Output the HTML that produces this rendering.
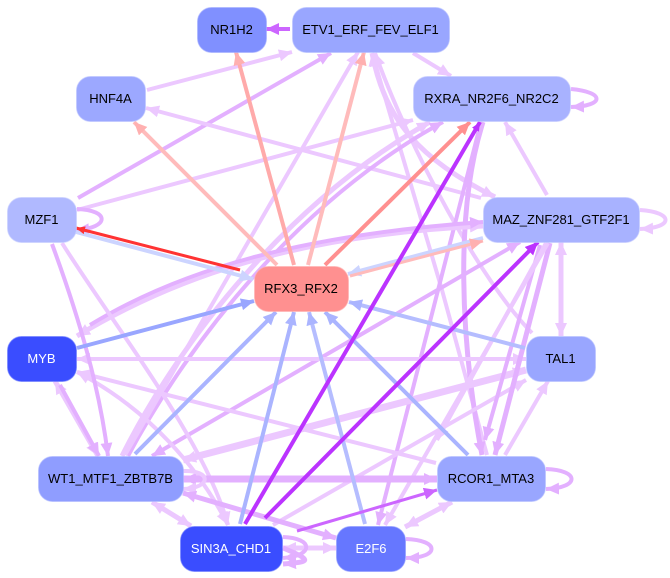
<!DOCTYPE html>
<html><head><meta charset="utf-8">
<style>
html,body{margin:0;padding:0;background:#fff}
svg{display:block}
text{font-family:"Liberation Sans",sans-serif;font-size:13px;text-anchor:middle;fill:#000}
path{fill:none}
.a{stroke:#ecc8ff;marker-end:url(#ma)}
.b{stroke:#e3b0ff;marker-end:url(#mb)}
.s{stroke-width:4}
.w{stroke-width:5}
.x{stroke-width:7}
.d{marker-start:url(#ma)}
.e{marker-start:url(#mb)}
</style></head><body>
<svg width="670" height="578" viewBox="0 0 670 578" xmlns="http://www.w3.org/2000/svg">
<defs>
<marker id="ma" markerUnits="userSpaceOnUse" markerWidth="16" markerHeight="14" refX="13" refY="6" orient="auto-start-reverse"><path d="M0 0L13 6L0 12z" style="fill:#ecc8ff"/></marker>
<marker id="mb" markerUnits="userSpaceOnUse" markerWidth="16" markerHeight="14" refX="13" refY="6" orient="auto-start-reverse"><path d="M0 0L13 6L0 12z" style="fill:#e3b0ff"/></marker>
<marker id="mc" markerUnits="userSpaceOnUse" markerWidth="16" markerHeight="14" refX="13" refY="6" orient="auto"><path d="M0 0L13 6L0 12z" style="fill:#cc66ff"/></marker>
<marker id="md" markerUnits="userSpaceOnUse" markerWidth="16" markerHeight="14" refX="13" refY="6" orient="auto"><path d="M0 0L13 6L0 12z" style="fill:#bb33ff"/></marker>
<marker id="md2" markerUnits="userSpaceOnUse" markerWidth="12" markerHeight="10" refX="9" refY="4" orient="auto"><path d="M0 0L9 4L0 8z" style="fill:#bb33ff"/></marker>
<marker id="me" markerUnits="userSpaceOnUse" markerWidth="16" markerHeight="14" refX="13" refY="6" orient="auto"><path d="M0 0L13 6L0 12z" style="fill:#ffb0b0"/></marker>
<marker id="mf" markerUnits="userSpaceOnUse" markerWidth="16" markerHeight="14" refX="13" refY="6" orient="auto"><path d="M0 0L13 6L0 12z" style="fill:#ff9090"/></marker>
<marker id="mg" markerUnits="userSpaceOnUse" markerWidth="12" markerHeight="10" refX="9" refY="4" orient="auto"><path d="M0 0L9 4L0 8z" style="fill:#ff3333"/></marker>
<marker id="mh" markerUnits="userSpaceOnUse" markerWidth="16" markerHeight="14" refX="13" refY="6" orient="auto"><path d="M0 0L13 6L0 12z" style="fill:#aab4ff"/></marker>
<marker id="mi" markerUnits="userSpaceOnUse" markerWidth="16" markerHeight="14" refX="13" refY="6" orient="auto"><path d="M0 0L13 6L0 12z" style="fill:#ccd4ff"/></marker>
<marker id="mj" markerUnits="userSpaceOnUse" markerWidth="16" markerHeight="14" refX="13" refY="6" orient="auto"><path d="M0 0L13 6L0 12z" style="fill:#99a6ff"/></marker>
</defs>

<!-- pale and medium purple edges -->
<path class="a s" d="M147 90L292 52"/>
<path class="b s" d="M78 198L331 53"/>
<path class="a s" d="M77 210L413 120"/>
<path class="a s" d="M481 198L146 108"/>
<path class="a s" d="M413 53L451 76"/>
<path class="a s" d="M547 195L505 122"/>
<path class="a w d" d="M561 242L561 336"/>
<path class="a s" d="M532 333C480 280 410 150 375 53"/>
<path class="a w d" d="M372 53C385 120 420 160 495 197"/>
<path class="a s" d="M487 455L442 290L372 53"/>
<path class="b w" d="M483 122C455 210 460 340 482 455"/>
<path class="b s" d="M481 122L378 525"/>
<path class="a w" d="M122 456C180 340 290 200 430 122"/>
<path class="b s" d="M128 456C190 340 300 200 443 122"/>
<path class="a s" d="M125 455L358 52"/>
<path class="a w d" d="M77 336C170 280 290 235 483 226"/>
<path class="b s" d="M90 325C180 270 300 235 483 222"/>
<path class="b s e" d="M152 456L520 242"/>
<path class="a x d" d="M183 460L526 370"/>
<path class="a s" d="M273 525L526 380"/>
<path class="a s" d="M505 455L548 381"/>
<path class="a s d" d="M77 359L526 359"/>
<path class="a s" d="M436 463L77 372"/>
<path class="a w d" d="M55 381L98 456"/>
<path class="b s" d="M60 385L99 456"/>
<path class="a s d" d="M77 372C150 410 200 470 228 525"/>
<path class="b s" d="M52 244C80 320 100 390 108 456"/>
<path class="a s" d="M62 243C110 320 205 440 228 525"/>
<path class="b w" d="M550 243L495 455"/>
<path class="b s" d="M540 245L485 440"/>
<path class="a s" d="M548 243L385 525"/>
<path class="a s" d="M546 243L437 440"/>
<path class="b x e" d="M183 479L437 479"/>
<path class="a s" d="M183 471C212 470 212 488 183 489"/>
<path class="b w e" d="M183 493L336 538"/>
<path class="a w d" d="M152 502L191 526"/>
<path class="a w d" d="M283 548L336 548"/>
<path class="b s" d="M283 537C314 538 314 556 283 558"/>
<path class="b w" d="M283 548C312 560 312 562 283 564"/>
<path class="a w d" d="M405 527L452 502"/>
<path class="b s" d="M546 469C580 470 580 488 546 489"/>
<path class="b s" d="M406 539C440 540 440 558 406 558"/>
<path class="b s" d="M571 89C605 92 605 106 571 107"/>
<path class="a s" d="M640 210C674 212 674 228 640 229"/>
<path class="b s" d="M77 209C110 210 110 228 76 230"/>

<!-- blue edges -->
<path d="M76 232L253 279" stroke="#ccd4ff" stroke-width="4" marker-end="url(#mi)"/>
<path d="M77 348L254 301" stroke="#99a6ff" stroke-width="4" marker-end="url(#mj)"/>
<path d="M525 348L349 302" stroke="#b5bdff" stroke-width="4" marker-end="url(#mh)"/>
<path d="M135 454L276 312" stroke="#aab4ff" stroke-width="4" marker-end="url(#mh)"/>
<path d="M240 524L294 312" stroke="#aab4ff" stroke-width="4" marker-end="url(#mh)"/>
<path d="M365 524L309 312" stroke="#b5bdff" stroke-width="4" marker-end="url(#mh)"/>
<path d="M468 455L325 312" stroke="#aab4ff" stroke-width="4" marker-end="url(#mh)"/>
<path d="M483 238L348 274" stroke="#ccd4ff" stroke-width="4" marker-end="url(#mi)"/>

<!-- pink and red edges -->
<path d="M294 265L236 52" stroke="#ffaaaa" stroke-width="4" marker-end="url(#me)"/>
<path d="M277 265L134 122" stroke="#ffbbbb" stroke-width="4" marker-end="url(#me)"/>
<path d="M308 265L364 52" stroke="#ffbbbb" stroke-width="4" marker-end="url(#me)"/>
<path d="M325 265L470 122" stroke="#ff9090" stroke-width="4" marker-end="url(#mf)"/>
<path d="M350 276L483 241" stroke="#ffbbbb" stroke-width="3" marker-end="url(#me)"/>
<path d="M240 270L76 228" stroke="#ff3333" stroke-width="3" marker-end="url(#mg)"/>

<!-- strong purple edges -->
<path d="M290 29L266 29" stroke="#cc66ff" stroke-width="4" marker-end="url(#mc)"/>
<path d="M297 531L437 490" stroke="#cc66ff" stroke-width="3" marker-end="url(#mc)"/>
<path d="M245 524L480 122" stroke="#bb33ff" stroke-width="4" marker-end="url(#md2)"/>
<path d="M265 518L538 242" stroke="#bb33ff" stroke-width="4" marker-end="url(#md)"/>

<!-- nodes -->
<g stroke-width="1" stroke-opacity="0.6">
<rect x="197.500" y="7.500" width="69" height="45" rx="14" fill="#8090ff" stroke="#a6b0ff"/>
<rect x="292.500" y="7.500" width="157" height="45" rx="14" fill="#99a6ff" stroke="#b8c1ff"/>
<rect x="76.500" y="76.500" width="69" height="45" rx="14" fill="#9ca8ff" stroke="#bcc4ff"/>
<rect x="413.500" y="76.500" width="157" height="45" rx="14" fill="#a8b2ff" stroke="#c4caff"/>
<rect x="7.500" y="197.500" width="69" height="45" rx="14" fill="#b0b9ff" stroke="#c8ceff"/>
<rect x="483.500" y="197.500" width="156" height="45" rx="14" fill="#a8b2ff" stroke="#c4caff"/>
<rect x="254.500" y="266.500" width="94" height="45" rx="14" fill="#ff9090" stroke="#ffb0b0"/>
<rect x="7.500" y="336.500" width="69" height="45" rx="14" fill="#3a4dff" stroke="#7280ff"/>
<rect x="526.500" y="336.500" width="69" height="45" rx="14" fill="#99a6ff" stroke="#b8c1ff"/>
<rect x="38.500" y="456.500" width="145" height="45" rx="14" fill="#8f9dff" stroke="#b0baff"/>
<rect x="437.500" y="456.500" width="108" height="45" rx="14" fill="#99a6ff" stroke="#b8c1ff"/>
<rect x="180.500" y="526.500" width="102" height="45" rx="14" fill="#3a4dff" stroke="#7280ff"/>
<rect x="336.500" y="526.500" width="69" height="45" rx="14" fill="#6677ff" stroke="#8d9aff"/>
</g>

<text x="231.500" y="34">NR1H2</text>
<text x="370.500" y="34">ETV1_ERF_FEV_ELF1</text>
<text x="110.500" y="103">HNF4A</text>
<text x="491.500" y="103">RXRA_NR2F6_NR2C2</text>
<text x="41.500" y="224">MZF1</text>
<text x="561" y="224">MAZ_ZNF281_GTF2F1</text>
<text x="301" y="293">RFX3_RFX2</text>
<text x="41.500" y="363" style="fill:#fff">MYB</text>
<text x="560.500" y="363">TAL1</text>
<text x="110.500" y="483">WT1_MTF1_ZBTB7B</text>
<text x="491" y="483">RCOR1_MTA3</text>
<text x="231" y="553" style="fill:#fff">SIN3A_CHD1</text>
<text x="371" y="553" style="fill:#fff">E2F6</text>
</svg>
</body></html>
